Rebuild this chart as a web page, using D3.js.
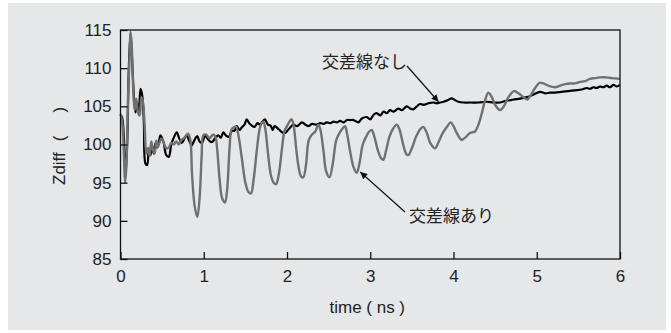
<!DOCTYPE html>
<html>
<head>
<meta charset="utf-8">
<script src="https://cdn.jsdelivr.net/npm/d3@7"></script>
<style>
  body { margin: 0; background: #fff; }
  svg text { font-family: "Liberation Sans", Arial, sans-serif; fill: #222; }
  .jp { font-family: "Noto Sans CJK JP", sans-serif; }
</style>
</head>
<body>
<svg id="chart" width="671" height="333"></svg>
<script>
// data (time in ns, Zdiff in ohm)
var tNoCross = [0, 0.02, 0.04, 0.06, 0.08, 0.10, 0.12, 0.14, 0.16, 0.18, 0.20, 0.22, 0.24, 0.26, 0.28, 0.30, 0.32, 0.34, 0.36, 0.38, 0.40, 0.42, 0.44, 0.46, 0.48, 0.50, 0.52, 0.55, 0.58, 0.61, 0.64, 0.675, 0.705, 0.735, 0.765, 0.795, 0.825, 0.855, 0.885, 0.92, 0.95, 0.98, 1.015, 1.05, 1.095, 1.135, 1.175, 1.205, 1.235, 1.265, 1.30, 1.34, 1.37, 1.395, 1.43, 1.46, 1.49, 1.515, 1.545, 1.575, 1.61, 1.645, 1.676, 1.705, 1.735, 1.77, 1.80, 1.83, 1.85, 1.90, 1.94, 1.976, 2.02, 2.076, 2.12, 2.18, 2.22, 2.256, 2.30, 2.35, 2.40, 2.44, 2.477, 2.52, 2.56, 2.60, 2.637, 2.68, 2.72, 2.757, 2.80, 2.857, 2.90, 2.957, 3.00, 3.04, 3.078, 3.12, 3.16, 3.20, 3.237, 3.28, 3.337, 3.38, 3.438, 3.48, 3.517, 3.56, 3.598, 3.64, 3.70, 3.757, 3.80, 3.838, 3.88, 3.93, 3.978, 4.02, 4.06, 4.12, 4.20, 4.30, 4.40, 4.48, 4.56, 4.62, 4.68, 4.72, 4.80, 4.88, 4.95, 5.04, 5.10, 5.16, 5.22, 5.30, 5.38, 5.46, 5.54, 5.60, 5.64, 5.68, 5.72, 5.76, 5.80, 5.84, 5.88, 5.92, 5.96, 6.00];
var zNoCross = [103.9, 103.5, 101, 96, 100, 110, 114.5, 111, 106.5, 104.2, 105.5, 104, 107.3, 106.5, 103, 97.5, 97.3, 99.5, 98.6, 99.8, 98.8, 100.2, 99.6, 100.3, 101.2, 100.8, 100.2, 98.6, 98.4, 100, 100.9, 101.6, 100.8, 100.2, 100.7, 101.2, 100.5, 99.9, 100.5, 101.1, 100.4, 100.2, 101.2, 100.7, 100.3, 100.8, 101.2, 100.9, 101.6, 101.2, 101.0, 101.8, 101.8, 102.4, 101.9, 102.3, 102.6, 103.3, 102.8, 102.5, 102.3, 102.8, 102.6, 103.0, 103.3, 102.6, 102.5, 101.9, 102.4, 102.0, 101.6, 101.5, 102.0, 102.6, 102.4, 102.9, 102.6, 102.4, 102.7, 102.6, 102.8, 102.7, 102.9, 102.8, 103.0, 102.9, 103.1, 102.9, 103.2, 103.2, 103.2, 102.9, 103.4, 103.6, 103.3, 103.9, 104.1, 103.8, 104.3, 104.1, 104.5, 104.3, 104.7, 104.5, 105.0, 104.7, 104.6, 105.0, 105.3, 105.2, 105.4, 105.5, 105.4, 105.5, 105.6, 105.8, 106.05, 105.8, 105.6, 105.5, 105.5, 105.5, 105.6, 105.5, 105.5, 105.7, 105.8, 105.9, 106.0, 106.2, 106.5, 106.9, 106.7, 106.8, 106.8, 106.9, 107.0, 107.1, 107.2, 107.4, 107.3, 107.5, 107.4, 107.6, 107.5, 107.7, 107.5, 107.8, 107.6, 107.8];

var tCross = [0, 0.02, 0.04, 0.055, 0.07, 0.09, 0.11, 0.12, 0.135, 0.15, 0.17, 0.19, 0.21, 0.23, 0.25, 0.27, 0.29, 0.31, 0.33, 0.35, 0.37, 0.39, 0.41, 0.43, 0.45, 0.47, 0.49, 0.52, 0.55, 0.58, 0.61, 0.64, 0.67, 0.70, 0.73, 0.76, 0.79, 0.815, 0.84, 0.86, 0.89, 0.923, 0.95, 0.975, 0.995, 1.03, 1.07, 1.11, 1.14, 1.16, 1.19, 1.22, 1.255, 1.28, 1.31, 1.335, 1.37, 1.39, 1.42, 1.46, 1.50, 1.535, 1.567, 1.60, 1.64, 1.68, 1.715, 1.74, 1.77, 1.81, 1.84, 1.868, 1.90, 1.94, 1.97, 2.00, 2.03, 2.056, 2.08, 2.11, 2.14, 2.17, 2.196, 2.23, 2.26, 2.30, 2.34, 2.376, 2.40, 2.44, 2.47, 2.51, 2.55, 2.59, 2.63, 2.66, 2.697, 2.72, 2.76, 2.80, 2.837, 2.87, 2.91, 2.95, 2.98, 3.017, 3.05, 3.09, 3.13, 3.157, 3.19, 3.23, 3.27, 3.318, 3.35, 3.40, 3.43, 3.457, 3.50, 3.55, 3.60, 3.637, 3.68, 3.72, 3.778, 3.82, 3.87, 3.92, 3.966, 4.00, 4.04, 4.098, 4.14, 4.198, 4.258, 4.30, 4.34, 4.38, 4.418, 4.46, 4.50, 4.559, 4.60, 4.66, 4.727, 4.78, 4.84, 4.887, 4.93, 4.98, 5.039, 5.08, 5.14, 5.219, 5.28, 5.34, 5.40, 5.46, 5.52, 5.58, 5.64, 5.70, 5.76, 5.84, 5.90, 6.00];
var zCross = [104.0, 103.0, 99, 95.0, 97, 106, 112, 114.8, 113, 108, 104.5, 106, 104.2, 103.8, 106.2, 105.5, 102.5, 98.8, 99.5, 98.5, 100.4, 99.3, 98.8, 100.5, 99.7, 100.3, 100.8, 100.2, 99.5, 99.6, 100.2, 100.0, 100.4, 100.0, 100.6, 100.8, 101.2, 101.4, 100.5, 96, 92, 90.5, 93, 98.5, 101.2, 101.3, 100.8, 101.3, 101.0, 99.5, 95.5, 93, 92.4, 94, 99.5, 102.0, 102.3, 102.3, 101.0, 98, 95, 93.8, 93.6, 95.5, 99.5, 102.4, 103.0, 102.0, 99.0, 95.8, 95.0, 94.8, 96, 99.5, 101.8, 102.4, 103.0, 103.3, 102.5, 99.5, 97.0, 95.8, 95.7, 97.5, 100.5, 101.3, 101.7, 102.6, 102.0, 99.0, 96.5, 95.7, 97.5, 100.5, 101.5, 102.0, 102.4, 101.5, 99.0, 97.0, 96.3, 97.5, 100.0, 101.0, 101.6, 101.9, 101.0, 99.3, 98.2, 98.0, 99.2, 101.0, 102.0, 102.6, 102.0, 99.8, 98.8, 98.6, 99.5, 101.0, 102.0, 102.3, 101.5, 100.2, 99.5, 100.3, 101.5, 102.3, 102.9, 102.4, 101.5, 100.6, 100.9, 101.5, 101.7, 102.6, 104.1, 105.8, 106.8, 106.2, 105.2, 104.5, 104.9, 106.2, 107.0, 106.7, 106.2, 105.9, 106.5, 107.4, 108.1, 108.0, 107.7, 107.5, 107.7, 107.9, 108.0, 108.0, 108.2, 108.3, 108.6, 108.7, 108.8, 108.8, 108.7, 108.6];

var xTicks = [0, 1, 2, 3, 4, 5, 6];
var yTicks = [85, 90, 95, 100, 105, 110, 115];

var margin = { top: 30, right: 51, bottom: 74, left: 120.5 };
var W = 671, H = 333;

var svg = d3.select('#chart');

// grey panel behind everything
svg.append('rect')
  .attr('x', 8).attr('y', 3)
  .attr('width', 658).attr('height', 327)
  .attr('fill', '#e6e7e9');

var xScale = d3.scaleLinear()
  .domain([0, 6])
  .range([margin.left, W - margin.right]);

var yScale = d3.scaleLinear()
  .domain([85, 115])
  .range([H - margin.bottom, margin.top]);

var line = d3.line()
  .x(d => xScale(d[0]))
  .y(d => yScale(d[1]))
  .curve(d3.curveCatmullRom.alpha(0.5));

var grayData = d3.zip(tCross, zCross);
var blackData = d3.zip(tNoCross, zNoCross);

svg.append('path')
  .datum(blackData)
  .attr('d', line)
  .attr('fill', 'none')
  .attr('stroke', '#000')
  .attr('stroke-width', 2.2)
  .attr('stroke-linejoin', 'round');

svg.append('path')
  .datum(grayData)
  .attr('d', line)
  .attr('fill', 'none')
  .attr('stroke', '#707070')
  .attr('stroke-width', 2.4)
  .attr('stroke-linejoin', 'round');

// frame
svg.append('rect')
  .attr('x', xScale(0)).attr('y', yScale(115))
  .attr('width', xScale(6) - xScale(0))
  .attr('height', yScale(85) - yScale(115))
  .attr('fill', 'none')
  .attr('stroke', '#111')
  .attr('stroke-width', 1.3);

// axes with inward ticks
var xAxis = d3.axisBottom(xScale).tickValues(xTicks).tickSize(-7).tickPadding(11).tickFormat(d3.format('d'));
var yAxis = d3.axisLeft(yScale).tickValues(yTicks).tickSize(-7).tickPadding(9).tickFormat(d3.format('d'));

var gx = svg.append('g')
  .attr('transform', 'translate(0,' + yScale(85) + ')')
  .call(xAxis);
var gy = svg.append('g')
  .attr('transform', 'translate(' + xScale(0) + ',0)')
  .call(yAxis);

[gx, gy].forEach(function(g) {
  g.select('.domain').remove();
  g.selectAll('.tick line').attr('stroke', '#111').attr('stroke-width', 1.3);
  g.selectAll('.tick text')
    .attr('font-size', 17)
    .attr('font-family', '"Liberation Sans", Arial, sans-serif')
    .attr('fill', '#222');
});

// axis titles
svg.append('text')
  .attr('x', xScale(3) - 3)
  .attr('y', 313)
  .attr('text-anchor', 'middle')
  .attr('font-size', 17)
  .text('time ( ns )');

var yTitle = svg.append('text')
  .attr('transform', 'translate(65,185) rotate(-90)')
  .attr('text-anchor', 'start')
  .attr('font-size', 17);
yTitle.append('tspan').text('Zdiff');
yTitle.append('tspan').attr('dx', 11).text('(');
yTitle.append('tspan').attr('dx', 23).text(')');

// annotations
svg.append('defs').append('marker')
  .attr('id', 'arrow')
  .attr('viewBox', '0 0 10 10')
  .attr('refX', 10).attr('refY', 5)
  .attr('markerWidth', 9).attr('markerHeight', 7)
  .attr('markerUnits', 'userSpaceOnUse')
  .attr('orient', 'auto')
  .append('path')
  .attr('d', 'M0,0 L10,5 L0,10 z')
  .attr('fill', '#111');

function annotate(label, tx, ty, x1, y1, tipT, tipZ) {
  svg.append('text')
    .attr('class', 'jp')
    .attr('x', tx).attr('y', ty)
    .attr('font-size', 17)
    .text(label);
  svg.append('line')
    .attr('x1', x1).attr('y1', y1)
    .attr('x2', xScale(tipT)).attr('y2', yScale(tipZ))
    .attr('stroke', '#111')
    .attr('stroke-width', 1.2)
    .attr('marker-end', 'url(#arrow)');
}

annotate('交差線なし', 322, 68, 407, 66, 3.82, 105.6);
annotate('交差線あり', 409, 222, 405, 212, 2.88, 96.4);
</script>
</body>
</html>
